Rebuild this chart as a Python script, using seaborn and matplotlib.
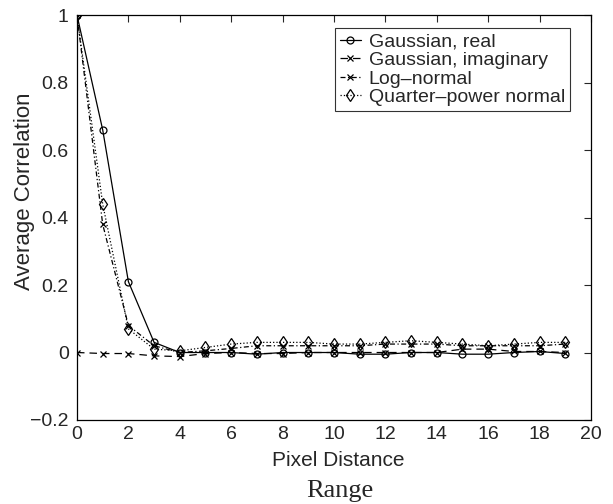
import matplotlib
matplotlib.use("Agg")
import matplotlib.pyplot as plt
import pandas as pd
import seaborn as sns

# pixel distances and average correlations
distance = list(range(20))
gaussReal = [1.0, 0.66, 0.21, 0.03, 0.0, 0.0, 0.0, -0.005, 0.0, 0.0,
             0.0, -0.005, -0.005, 0.0, 0.0, -0.005, -0.005, 0.0, 0.003, -0.003]
gaussImag = [0.0, -0.003, -0.003, -0.01, -0.012, -0.003, 0.0, -0.003, -0.003, 0.0,
             0.0, 0.0, 0.0, 0.0, 0.0, 0.01, 0.01, 0.003, 0.003, 0.0]
logNormal = [1.0, 0.38, 0.08, 0.02, 0.0, 0.005, 0.012, 0.02, 0.02, 0.02,
             0.02, 0.02, 0.025, 0.025, 0.025, 0.02, 0.02, 0.02, 0.02, 0.025]
quarterPower = [1.0, 0.44, 0.07, 0.01, 0.005, 0.015, 0.025, 0.03, 0.03, 0.03,
                0.025, 0.025, 0.03, 0.035, 0.03, 0.025, 0.02, 0.025, 0.03, 0.03]

seriesNames = ["Gaussian, real", "Gaussian, imaginary", "Log\u2013normal", "Quarter\u2013power normal"]
seriesVals = [gaussReal, gaussImag, logNormal, quarterPower]
styles = [("-", "o"), ((0, (6, 4)), "x"), ((0, (4, 2, 1, 2)), "x"), (":", "d")]

sns.set_style("white")
plt.rcParams["font.family"] = ["Liberation Sans", "DejaVu Sans"]

fig = plt.figure(figsize=(6.13, 5.04), dpi=100)
ax = fig.add_axes([0.1256, 0.1667, 0.8384, 0.8033])

for name, vals, (ls, mk) in zip(seriesNames, seriesVals, styles):
    df = pd.DataFrame({"Pixel Distance": distance, "corr": vals})
    ms = 6 if mk == "d" else 5
    sns.lineplot(data=df, x="Pixel Distance", y="corr", ax=ax, color="black",
                 linestyle=ls, linewidth=0.9, marker=mk, markersize=ms,
                 markerfacecolor="none", markeredgecolor="black",
                 markeredgewidth=0.9, label=name)

ax.set_xlim(0, 20)
ax.set_ylim(-0.2, 1.0)
ax.set_xticks(range(0, 21, 2))
ax.set_yticks([-0.2, 0, 0.2, 0.4, 0.6, 0.8, 1])
ax.set_yticklabels(["\u22120.2", "0", "0.2", "0.4", "0.6", "0.8", "1"])
ax.tick_params(direction="in", top=True, right=True, labelsize=14, length=5, width=0.8)
ax.tick_params(axis="y", pad=6)
ax.tick_params(axis="x", pad=4)
for s in ax.spines.values():
    s.set_color("black")
    s.set_linewidth(0.9)
ax.set_xlabel("Pixel Distance", fontsize=15)
ax.set_ylabel("Average Correlation", fontsize=16)
ax.xaxis.set_label_coords(0.508, -0.077)
ax.yaxis.set_label_coords(-0.082, 0.565)

leg = ax.legend(loc="upper right", bbox_to_anchor=(0.959, 0.968), fontsize=14,
                frameon=True, fancybox=False, handlelength=1.1, handletextpad=0.4,
                borderpad=0.25, labelspacing=0.05, borderaxespad=0)
leg.get_frame().set_edgecolor("black")
leg.get_frame().set_linewidth(0.8)

fig.text(0.555, 0.003, "Range", fontsize=19, family=["Liberation Serif"], ha="center", va="bottom")

plt.savefig("out.png", dpi=100)
plt.close()
